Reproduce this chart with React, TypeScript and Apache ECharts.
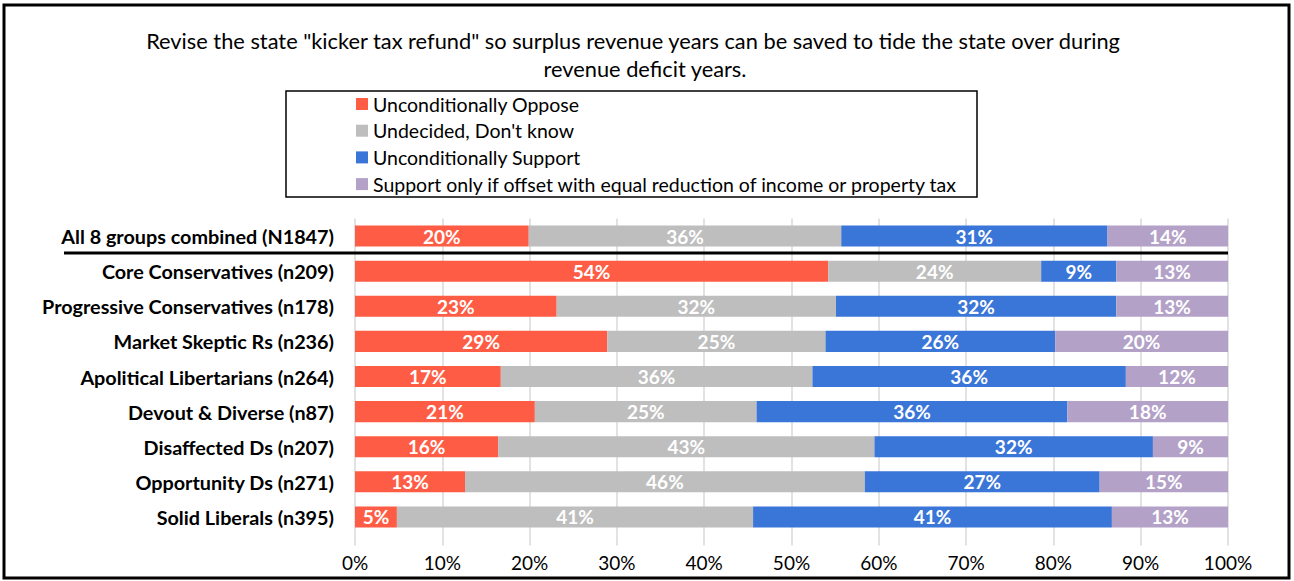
import React, { useEffect, useRef } from "react";
import * as echarts from "echarts";

const categories = [
  "All 8 groups combined (N1847)",
  "Core Conservatives (n209)",
  "Progressive Conservatives (n178)",
  "Market Skeptic Rs (n236)",
  "Apolitical Libertarians (n264)",
  "Devout & Diverse (n87)",
  "Disaffected Ds (n207)",
  "Opportunity Ds (n271)",
  "Solid Liberals (n395)",
];

const seriesNames = [
  "Unconditionally Oppose",
  "Undecided, Don't know",
  "Unconditionally Support",
  "Support only if offset with equal reduction of income or property tax",
];

const oppose = [19.9, 54.2, 23.1, 28.9, 16.7, 20.6, 16.4, 12.6, 4.8];
const undecided = [35.8, 24.4, 32.0, 25.0, 35.7, 25.4, 43.1, 45.8, 40.8];
const support = [30.5, 8.6, 32.1, 26.3, 35.9, 35.6, 31.9, 26.9, 41.1];
const conditional = [13.8, 12.8, 12.8, 19.8, 11.7, 18.4, 8.6, 14.7, 13.3];

const colors = ["#FF5C45", "#BEBEBE", "#3A75D8", "#B3A1C8"];

const titleLines = [
  'Revise the state "kicker tax refund" so surplus revenue years can be saved to tide the state over during',
  "revenue deficit years.",
];

const FONT = "Lato";

export default function App() {
  const ref = useRef<HTMLDivElement>(null);
  useEffect(() => {
    if (!ref.current) return;
    const chart = echarts.init(ref.current, null, { renderer: "svg" });
    const data = [oppose, undecided, support, conditional];
    chart.setOption({
      animation: false,
      backgroundColor: "#fff",
      textStyle: { fontFamily: FONT },
      grid: { left: 355, right: 66, top: 218.5, bottom: 46.5, containLabel: false },
      legend: {
        orient: "vertical",
        left: 356,
        top: 93,
        padding: 0,
        itemGap: 4.7,
        itemWidth: 12,
        itemHeight: 12,
        icon: "rect",
        textStyle: { fontFamily: FONT, fontSize: 19.5, color: "#000", lineHeight: 22 },
        data: seriesNames,
      },
      xAxis: {
        type: "value",
        min: 0,
        max: 100,
        interval: 10,
        axisLine: { show: false },
        axisTick: { show: true, length: 11, lineStyle: { color: "#D9D9D9", width: 1.5 } },
        splitLine: { show: true, lineStyle: { color: "#D9D9D9", width: 1.5 } },
        axisLabel: {
          formatter: "{value}%",
          fontFamily: FONT,
          fontSize: 19,
          color: "#000",
          margin: 18,
        },
      },
      yAxis: {
        type: "category",
        inverse: true,
        data: categories,
        axisLine: { show: false },
        axisTick: { show: false },
        axisLabel: {
          fontFamily: FONT,
          fontSize: 19.8,
          fontWeight: "bold",
          color: "#000",
          margin: 21,
        },
      },
      series: seriesNames.map((name, i) => ({
        name,
        type: "bar",
        stack: "total",
        barCategoryGap: "40%",
        itemStyle: { color: colors[i] },
        label: {
          show: true,
          position: "inside",
          color: "#fff",
          fontFamily: FONT,
          fontWeight: "bold",
          fontSize: 19,
          formatter: (p: any) => Math.round(p.value) + "%",
        },
        data: data[i],
      })),
      graphic: [
        {
          type: "rect",
          shape: { x: 4, y: 5, width: 1285, height: 573 },
          style: { fill: "none", stroke: "#000", lineWidth: 3 },
          silent: true,
        },
        {
          type: "text",
          x: 633,
          y: 40,
          style: {
            text: titleLines[0],
            fontFamily: FONT,
            fontSize: 21.8,
            fill: "#000",
            align: "center",
            verticalAlign: "middle",
          },
        },
        {
          type: "text",
          x: 645,
          y: 68,
          style: {
            text: titleLines[1],
            fontFamily: FONT,
            fontSize: 21.8,
            fill: "#000",
            align: "center",
            verticalAlign: "middle",
          },
        },
        {
          type: "rect",
          shape: { x: 286, y: 91, width: 691, height: 106 },
          style: { fill: "none", stroke: "#000", lineWidth: 1.5 },
          silent: true,
        },
        {
          type: "line",
          shape: { x1: 64, y1: 253, x2: 1228, y2: 253 },
          style: { stroke: "#000", lineWidth: 3 },
          silent: true,
          z: 10,
        },
      ],
    });
    return () => chart.dispose();
  }, []);
  return (
    <div
      ref={ref}
      style={{ position: "absolute", left: 0, top: 0, width: 1294, height: 581 }}
    />
  );
}
